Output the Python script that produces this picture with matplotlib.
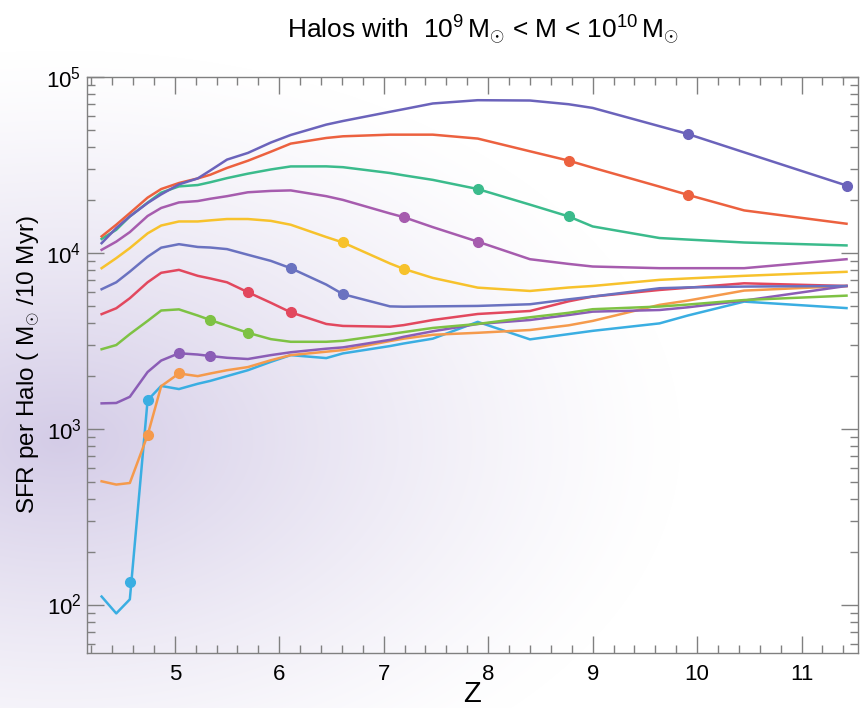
import numpy as np
import matplotlib
matplotlib.use("Agg")
import matplotlib.pyplot as plt
from matplotlib.ticker import LogLocator, MultipleLocator, LogFormatterMathtext

plt.rcParams['font.family'] = ['Liberation Sans', 'DejaVu Sans']
plt.rcParams['mathtext.fontset'] = 'custom'
plt.rcParams['mathtext.rm'] = 'Liberation Sans'
plt.rcParams['mathtext.it'] = 'Liberation Sans'
plt.rcParams['mathtext.bf'] = 'Liberation Sans'

# redshift grid shared by all curves
z = [4.30, 4.44, 4.57, 4.74, 4.87, 5.04, 5.22, 5.34, 5.50, 5.70, 5.92, 6.11, 6.45,
     6.61, 7.06, 7.19, 7.47, 7.90, 8.40, 8.77, 9.00, 9.64, 9.91, 10.45, 11.43]

# SFR per halo, one list per curve (bottom curve first)
sfr_cyan = [111, 89, 107, 1450, 1750, 1680, 1800, 1870, 1990, 2150, 2400, 2620, 2520,
            2680, 2950, 3050, 3250, 4050, 3220, 3450, 3600, 3970, 4400, 5280, 4850]
sfr_orange = [502, 481, 491, 918, 1745, 2060, 1990, 2060, 2150, 2240, 2450, 2620, 2740,
              2800, 3150, 3250, 3420, 3510, 3640, 3870, 4100, 5060, 5350, 6100, 6480]
sfr_purple = [1393, 1400, 1518, 2100, 2440, 2685, 2640, 2590, 2530, 2490, 2620, 2720, 2850,
              2900, 3200, 3330, 3580, 3940, 4150, 4430, 4630, 4730, 4900, 5350, 6480]
sfr_green = [2830, 2990, 3450, 4100, 4700, 4770, 4400, 4150, 3850, 3510, 3230, 3120, 3120,
             3160, 3450, 3540, 3740, 3940, 4300, 4560, 4780, 4950, 5080, 5390, 5710]
sfr_red = [4480, 4840, 5520, 6800, 7700, 8000, 7400, 7150, 6800, 5970, 5200, 4590, 3940,
           3840, 3800, 3880, 4150, 4490, 4670, 5300, 5640, 6150, 6330, 6710, 6480]
sfr_blue = [6210, 6800, 7820, 9500, 10700, 11200, 10800, 10720, 10500, 9750, 9000, 8180, 6600,
            5820, 4960, 4940, 4960, 4990, 5100, 5440, 5640, 6290, 6360, 6430, 6480]
sfr_yellow = [8180, 9330, 10640, 12900, 14300, 15080, 15080, 15300, 15570, 15570, 15200, 14450, 12300,
              11450, 8700, 8110, 7200, 6340, 6070, 6350, 6480, 7020, 7150, 7400, 7800]
sfr_magenta = [10400, 11580, 13120, 16200, 18000, 19350, 19700, 20300, 21000, 22100, 22500, 22650, 21000,
               20000, 16750, 15970, 14000, 11580, 9200, 8650, 8360, 8180, 8180, 8180, 9200]
sfr_teal = [12000, 13520, 16110, 19300, 22000, 23870, 24300, 25200, 26600, 28200, 29800, 31000, 31030,
            30700, 28440, 27600, 26000, 23060, 18800, 16110, 14130, 12140, 11900, 11450, 11020]
sfr_redorange = [12400, 14450, 16830, 20600, 23060, 24950, 26500, 27800, 30400, 33400, 37600, 41800, 45000,
                 46000, 47000, 47000, 47000, 44650, 37800, 33450, 30500, 23800, 21380, 17430, 14640]
sfr_violet = [11350, 13830, 16110, 19200, 21500, 24500, 26500, 29400, 33900, 37000, 42400, 46800, 53600,
              56200, 63400, 65600, 70700, 73800, 73500, 70000, 66700, 52500, 47430, 37300, 24150]

# snapshot redshifts marked with dots; curve k has dots at snap_z[k], snap_z[k+1]
snap_z = [4.57, 4.74, 5.04, 5.34, 5.70, 6.11, 6.61, 7.19, 7.90, 8.77, 9.91, 11.43]
dot_sfr = [[134, 1450], [918, 2060], [2685, 2590], [4150, 3510], [5970, 4590],
           [8180, 5820], [11450, 8110], [15970, 11580], [23060, 16110],
           [33450, 21380], [47430, 24150]]

curves = [sfr_cyan, sfr_orange, sfr_purple, sfr_green, sfr_red, sfr_blue,
          sfr_yellow, sfr_magenta, sfr_teal, sfr_redorange, sfr_violet]
colors = ['#3aaee2', '#f59a4c', '#8b5db6', '#7ec244', '#e2485e', '#6a72c0',
          '#f7c22c', '#a65cae', '#3bbb8c', '#ec613f', '#6b63bb']

fig = plt.figure(figsize=(8.62, 7.08), dpi=100)

# soft lavender glow behind the lower-left part of the figure
bg = fig.add_axes([0, 0, 1, 1], zorder=-1)
W, H = 862, 708
xx, yy = np.meshgrid(np.arange(W), np.arange(H))
r = np.sqrt(((xx - 60) / 620.0) ** 2 + ((yy - 440) / 390.0) ** 2)
a = np.clip(1 - r, 0, 1) ** 1.25
tint = np.array([212, 204, 231]) / 255.0
img = 1 - a[..., None] * (1 - tint)
bg.imshow(img, extent=[0, 1, 0, 1], aspect='auto', origin='upper')
bg.axis('off')

ax = fig.add_axes([87 / 862, 55 / 708, (858 - 87) / 862, (653 - 77) / 708])
ax.set_facecolor('none')

for k, (vals, c) in enumerate(zip(curves, colors)):
    ax.plot(z, vals, color=c, lw=1.8, solid_joinstyle='round')
    ax.plot(snap_z[k:k + 2], dot_sfr[k], 'o', color=c, ms=7, mec=c)

ax.set_yscale('log')
ax.set_xlim(4.16, 11.54)
ax.set_ylim(53, 1e5)
ax.xaxis.set_major_locator(MultipleLocator(1))
ax.xaxis.set_minor_locator(MultipleLocator(0.2))
ax.yaxis.set_major_locator(LogLocator(base=10))
ax.yaxis.set_minor_locator(LogLocator(base=10, subs=np.arange(2, 10)))
ax.yaxis.set_major_formatter(LogFormatterMathtext())
ax.yaxis.set_minor_formatter(plt.NullFormatter())

ax.tick_params(which='both', direction='in', top=True, right=True, color='#808080',
               width=1, labelsize=16)
ax.tick_params(which='major', length=12)
ax.tick_params(which='minor', length=6)
ax.tick_params(axis='x', pad=8)
ax.tick_params(axis='y', pad=4)
for s in ax.spines.values():
    s.set_color('#808080')
    s.set_linewidth(1)

ax.set_xlabel('Z', fontsize=21, labelpad=-4)
ax.set_ylabel(r'SFR per Halo ( $\mathrm{M}_{\odot}$ /10 Myr)', fontsize=17.5, labelpad=3)
fig.text(0.56, 0.957, r'Halos with  $10^{9}\,\mathrm{M}_{\odot}$ < M < $10^{10}\,\mathrm{M}_{\odot}$',
         ha='center', va='center', fontsize=19)

fig.savefig('out.png', dpi=100)
